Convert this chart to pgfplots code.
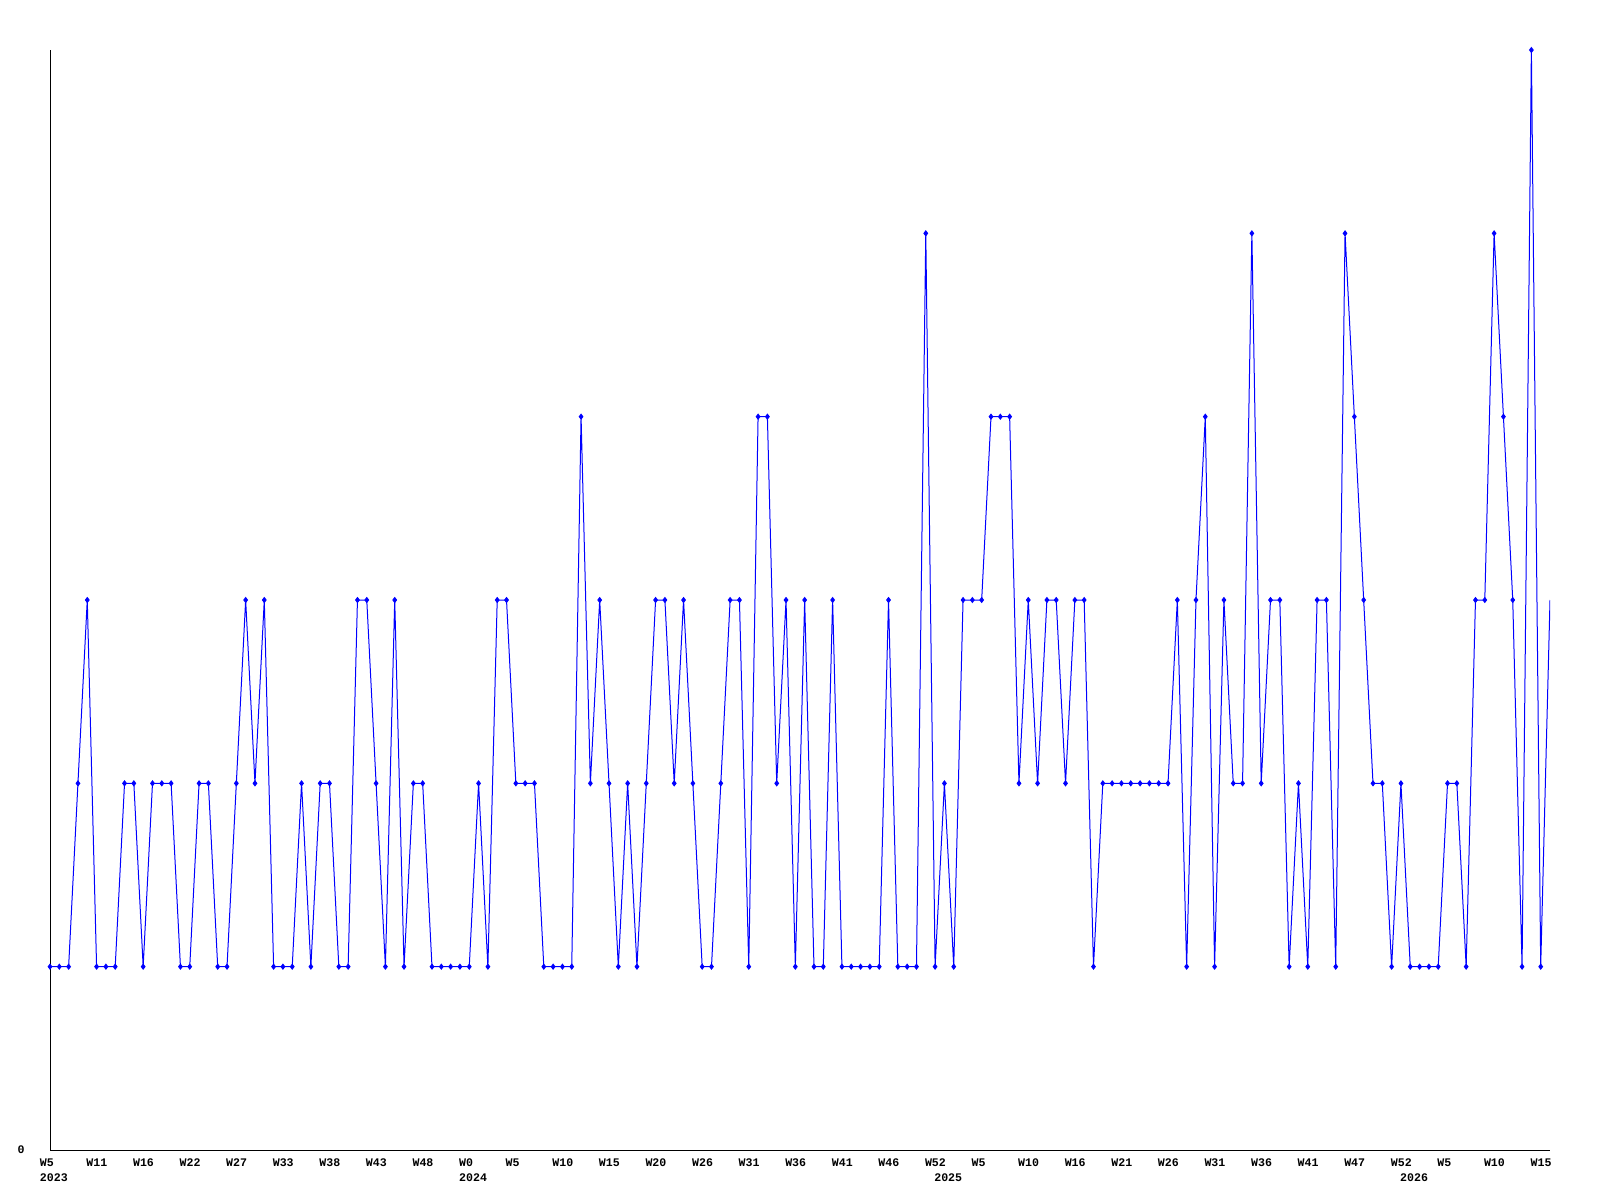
\documentclass[border=0pt]{standalone}
\usepackage{fontspec}
\setmainfont{Liberation Mono}
\usepackage{pgfplots}
\pgfplotsset{compat=1.18}

\begin{document}
\begin{tikzpicture}
\useasboundingbox (-25pt,-25pt) rectangle (775pt,575pt);
\begin{axis}[
  at={(0pt,0pt)}, anchor=south west,
  scale only axis, width=750pt, height=550pt,
  xmin=0, xmax=161, ymin=0, ymax=6,
  axis lines*=left,
  axis line style={black, line width=0.5pt},
  major tick length=0pt,
  tick label style={font=\fontsize{5.8}{6}\selectfont\bfseries, inner sep=0pt},
  xtick={0,5,...,160},
  xticklabels={W5,W11,W16,W22,W27,W33,W38,W43,W48,W0,W5,W10,W15,W20,W26,W31,W36,W41,W46,W52,W5,W10,W16,W21,W26,W31,W36,W41,W47,W52,W5,W10,W15},
  xticklabel style={anchor=base west, xshift=-5.25pt, yshift=-8.35pt},
  extra x ticks={0,45,96,146},
  extra x tick labels={2023,2024,2025,2026},
  extra x tick style={xticklabel style={yshift=-7.5pt}},
  ytick={0}, yticklabels={0},
  yticklabel style={anchor=east, xshift=-12.5pt},
]
% weekly counts; the last point runs into the right edge without a marker
\addplot[blue, line width=0.5pt, mark=diamond*, mark size=1.2pt, mark indices={1,...,161}] coordinates {
  (0,1) (1,1) (2,1) (3,2) (4,3) (5,1) (6,1) (7,1) (8,2) (9,2)
  (10,1) (11,2) (12,2) (13,2) (14,1) (15,1) (16,2) (17,2) (18,1) (19,1)
  (20,2) (21,3) (22,2) (23,3) (24,1) (25,1) (26,1) (27,2) (28,1) (29,2)
  (30,2) (31,1) (32,1) (33,3) (34,3) (35,2) (36,1) (37,3) (38,1) (39,2)
  (40,2) (41,1) (42,1) (43,1) (44,1) (45,1) (46,2) (47,1) (48,3) (49,3)
  (50,2) (51,2) (52,2) (53,1) (54,1) (55,1) (56,1) (57,4) (58,2) (59,3)
  (60,2) (61,1) (62,2) (63,1) (64,2) (65,3) (66,3) (67,2) (68,3) (69,2)
  (70,1) (71,1) (72,2) (73,3) (74,3) (75,1) (76,4) (77,4) (78,2) (79,3)
  (80,1) (81,3) (82,1) (83,1) (84,3) (85,1) (86,1) (87,1) (88,1) (89,1)
  (90,3) (91,1) (92,1) (93,1) (94,5) (95,1) (96,2) (97,1) (98,3) (99,3)
  (100,3) (101,4) (102,4) (103,4) (104,2) (105,3) (106,2) (107,3) (108,3) (109,2)
  (110,3) (111,3) (112,1) (113,2) (114,2) (115,2) (116,2) (117,2) (118,2) (119,2)
  (120,2) (121,3) (122,1) (123,3) (124,4) (125,1) (126,3) (127,2) (128,2) (129,5)
  (130,2) (131,3) (132,3) (133,1) (134,2) (135,1) (136,3) (137,3) (138,1) (139,5)
  (140,4) (141,3) (142,2) (143,2) (144,1) (145,2) (146,1) (147,1) (148,1) (149,1)
  (150,2) (151,2) (152,1) (153,3) (154,3) (155,5) (156,4) (157,3) (158,1) (159,6)
  (160,1) (161,3)
};
\end{axis}
\end{tikzpicture}
\end{document}
